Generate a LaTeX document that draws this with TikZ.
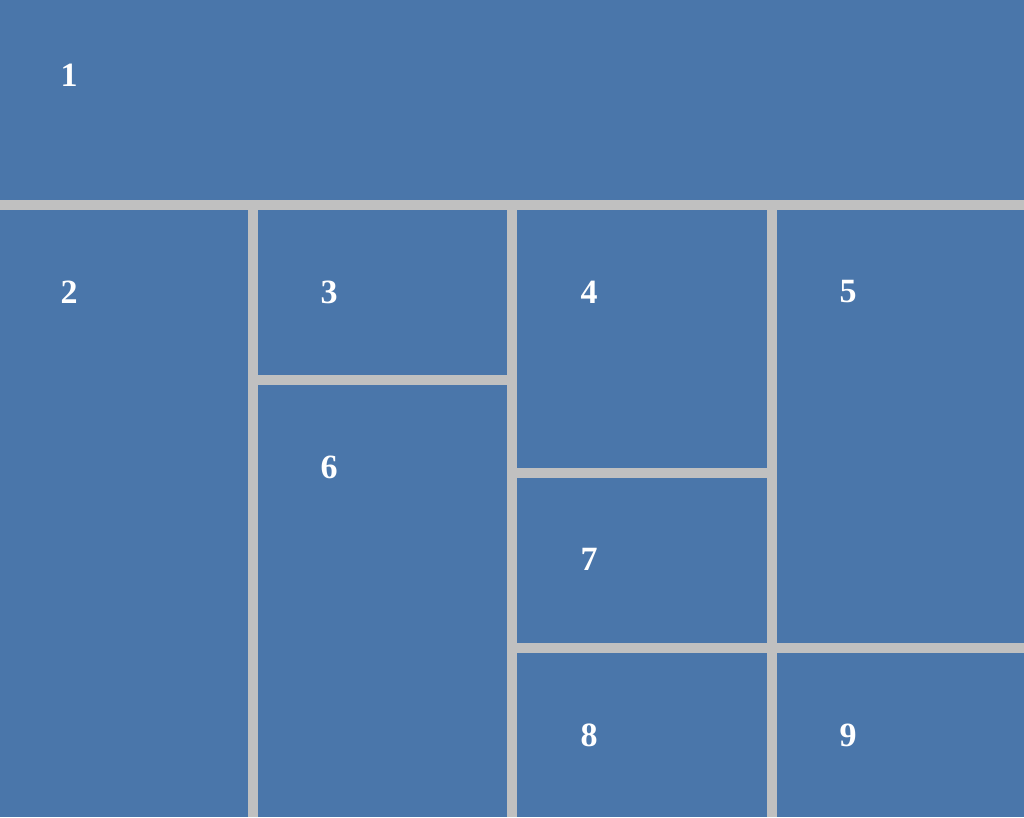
\documentclass[tikz,border=0pt]{standalone}
\usepackage{fontspec}
\setmainfont{Liberation Serif}
\usetikzlibrary{positioning}
\definecolor{panelblue}{RGB}{74,118,170}
\definecolor{gapgray}{RGB}{192,192,192}

\begin{document}
\begin{tikzpicture}[x=1pt, y=-1pt]
\tikzset{panel/.style={fill=panelblue}, num/.style={text=white, inner sep=0pt, font=\fontsize{34}{34}\selectfont\bfseries}}
% background shows through as the gaps
\fill[gapgray] (0,0) rectangle (1024,817);
% top row
\fill[panel] (0,0) rectangle (1024,200);
% lower columns
\fill[panel] (0,210) rectangle (248,817);
\fill[panel] (258,210) rectangle (507,375);
\fill[panel] (258,385) rectangle (507,817);
\fill[panel] (517,210) rectangle (767,468);
\fill[panel] (517,478) rectangle (767,643);
\fill[panel] (517,653) rectangle (767,817);
\fill[panel] (777,210) rectangle (1024,643);
\fill[panel] (777,653) rectangle (1024,817);
% numbers
\node[num] (n1) at (69,75) {1};
\node[num] (n2) at (69,292) {2};
\node[num] (n3) at (329,292) {3};
\node[num] (n4) at (589,292) {4};
\node[num] (n5) at (848,292) {5};
\node[num] (n6) at (329,467) {6};
\node[num] (n7) at (589,559) {7};
\node[num] (n8) at (589,735) {8};
\node[num] (n9) at (848,735) {9};
\end{tikzpicture}
\end{document}
